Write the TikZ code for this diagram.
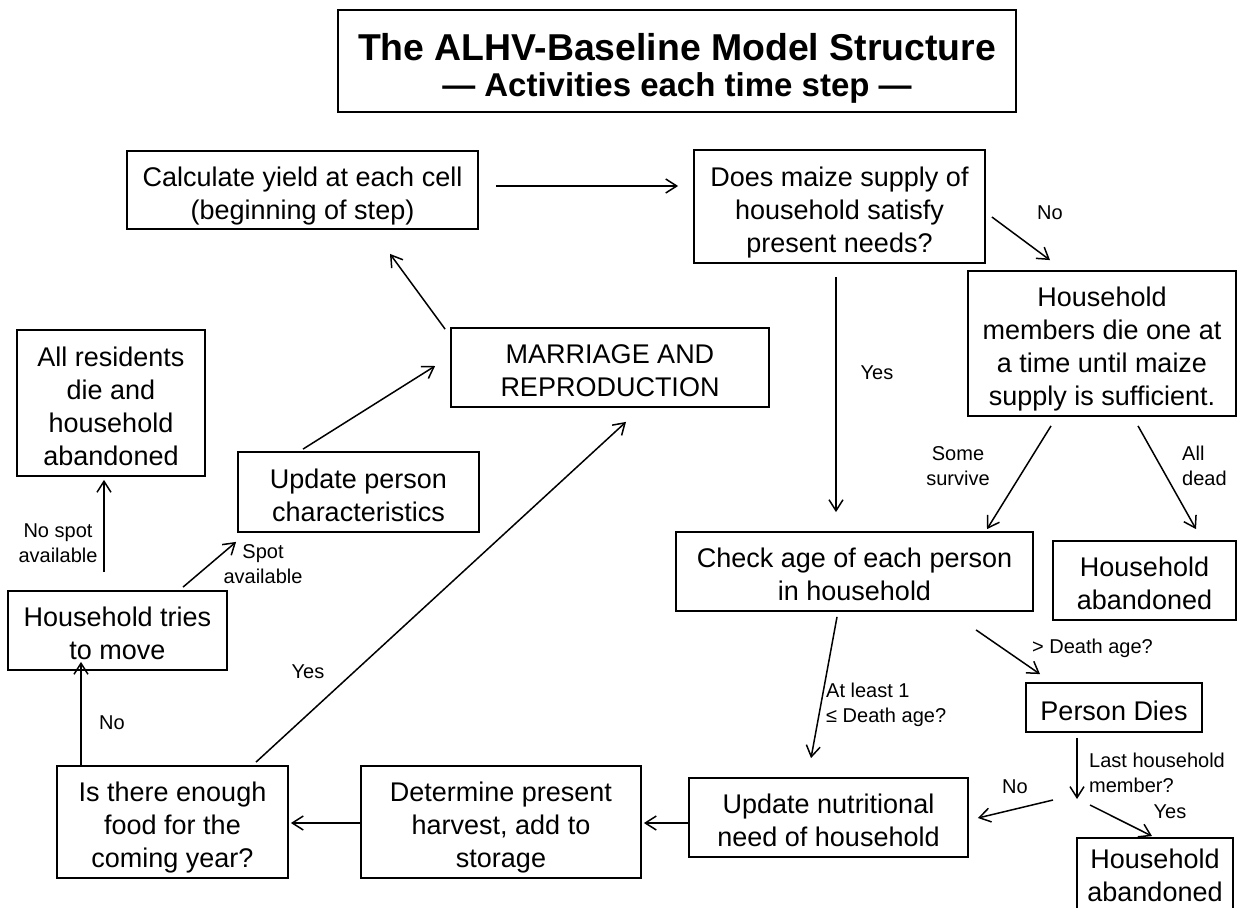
\documentclass[tikz,border=0pt]{standalone}
\usepackage{fontspec}
\setmainfont{Liberation Sans}
\usetikzlibrary{arrows.meta}
\newcommand{\myTop}{\rule{0pt}{31pt}}
\tikzset{
  box/.style={draw=black, line width=1.8pt, inner sep=0pt, align=center,
    font=\fontsize{27}{33}\selectfont,
    execute at end node={\rule[-5.7pt]{0pt}{5.7pt}}},
  plainbox/.style={box, execute at end node={}},
  dims/.style 2 args={minimum width=#1pt, minimum height=#2pt},
  arr/.style={line width=1.5pt, -{Straight Barb[length=11pt,width=14pt,line width=1.5pt]}},
  lbl/.style={inner sep=0pt, font=\fontsize{20}{25}\selectfont},
}
\begin{document}
\begin{tikzpicture}[x=1pt,y=-1pt]
\useasboundingbox (0,0) rectangle (1238,907);
\fill[white] (0,0) rectangle (1238,907);

% title
\node[plainbox, dims={678}{102}] (title) at (677,61)
  {{\fontsize{37.4}{40}\selectfont\bfseries\rule{0pt}{41pt}The ALHV-Baseline Model Structure}\\[3pt]
   {\fontsize{33}{36}\selectfont\bfseries — Activities each time step —}};

% boxes
\node[box, dims={351}{78}]  (calc)    at (302.5,190)  {\myTop Calculate yield at each cell\\(beginning of step)};
\node[box, dims={291}{113}] (does)    at (839.5,206.5){\myTop Does maize supply of\\household satisfy\\present needs?};
\node[box, dims={268}{145}] (members) at (1102,343.5) {\myTop Household\\members die one at\\a time until maize\\supply is sufficient.};
\node[box, dims={318}{79}]  (marr)    at (610,367.5)  {\myTop MARRIAGE AND\\REPRODUCTION};
\node[box, dims={188}{146}] (allres)  at (111,403)    {\myTop All residents\\die and\\household\\abandoned};
\node[box, dims={241}{80}]  (upd)     at (358.5,492)  {\myTop Update person\\characteristics};
\node[box, dims={357}{79}]  (check)   at (854.5,571.5){\myTop Check age of each person\\in household};
\node[box, dims={183}{79}]  (aba)     at (1144.5,580.5){\myTop Household\\abandoned};
\node[box, dims={219}{79}]  (tries)   at (117.5,630.5){\myTop Household tries\\to move};
\node[box, dims={176}{49}]  (pdies)   at (1114,707.5) {\myTop Person Dies};
\node[box, dims={231}{112}] (isthere) at (172.5,822)  {\myTop Is there enough\\food for the\\coming year?};
\node[box, dims={280}{112}] (determ)  at (501,822)    {\myTop Determine present\\harvest, add to\\storage};
\node[box, dims={279}{79}]  (nutr)    at (828.5,817.5){\myTop Update nutritional\\need of household};
\node[plainbox, dims={156}{80}] (abb) at (1155,878)   {Household\\abandoned};

\coordinate (br) at (1077,799);
\coordinate (nostart) at (1053,800);
\coordinate (yesstart) at (1090,805);

% connectors
\draw[arr] ([shift={(17,-4)}]calc.east) -- ([shift={(-15,-20.5)}]does.west);
\draw[arr] ([shift={(6,10.5)}]does.east) -- ([shift={(-52,-10)}]members.north);
\draw[arr] ([shift={(-3.5,13)}]does.south) -- ([shift={(-3.5,-19)}]does.south |- check.north);
\draw[arr] ([shift={(-51,9)}]members.south) -- ([shift={(132.5,-2)}]check.north);
\draw[arr] ([shift={(36,9)}]members.south) -- ([shift={(51.5,-11)}]aba.north);
\draw[arr] ([shift={(121.5,18)}]check.south) -- ([shift={(-74,-8)}]pdies.north);
\draw[arr] ([shift={(-17.5,5)}]check.south) -- ([shift={(-17.5,-19)}]nutr.north);
\draw[arr] ([shift={(-37,5)}]pdies.south) -- (br);
\draw[arr] (nostart) -- ([shift={(9,0.5)}]nutr.east);
\draw[arr] (yesstart) -- ([shift={(-3,-1)}]abb.north);
\draw[arr] ([shift={(0,5.5)}]nutr.west) -- ([shift={(2,1)}]determ.east);
\draw[arr] ([shift={(0,1)}]determ.west) -- ([shift={(2,1)}]isthere.east);
\draw[arr] ([shift={(-91.5,0)}]isthere.north) -- ([shift={(-36.5,-9)}]tries.south);
\draw[arr] ([shift={(83.5,-3)}]isthere.north) -- ([shift={(16,14)}]marr.south);
\draw[arr] ([shift={(-13.5,-18)}]tries.north) -- ([shift={(-7,3)}]allres.south);
\draw[arr] ([shift={(65.5,-3)}]tries.north) -- ([shift={(-1,9)}]upd.south west);
\draw[arr] ([shift={(-55.5,-2)}]upd.north) -- ([shift={(-15,-1.5)}]marr.west);
\draw[arr] ([shift={(-5,2)}]marr.north west) -- ([shift={(87.5,24)}]calc.south);

% labels
\node[lbl] (lno1) at (1050,213) {No};
\node[lbl] (lyes1) at (877,373) {Yes};
\node[lbl, align=center] (lsome) at (958,466) {Some\\survive};
\node[lbl, align=left, anchor=west] (lall) at (1182,466) {All\\dead};
\node[lbl, anchor=west] (lgt) at (1032,648) {> Death age?};
\node[lbl, align=left, anchor=west] (lle) at (826,705) {At least 1\\≤ Death age?};
\node[lbl, align=left, anchor=west] (llast) at (1089,773) {Last household\\member?};
\node[lbl] (lno2) at (1015,787) {No};
\node[lbl] (lyes2) at (1170,812) {Yes};
\node[lbl] (lno3) at (112,723) {No};
\node[lbl] (lyes3) at (308,672) {Yes};
\node[lbl, align=center] (lnospot) at (58,543) {No spot\\available};
\node[lbl, align=center] (lspot) at (263,564) {Spot\\available};
\end{tikzpicture}
\end{document}
